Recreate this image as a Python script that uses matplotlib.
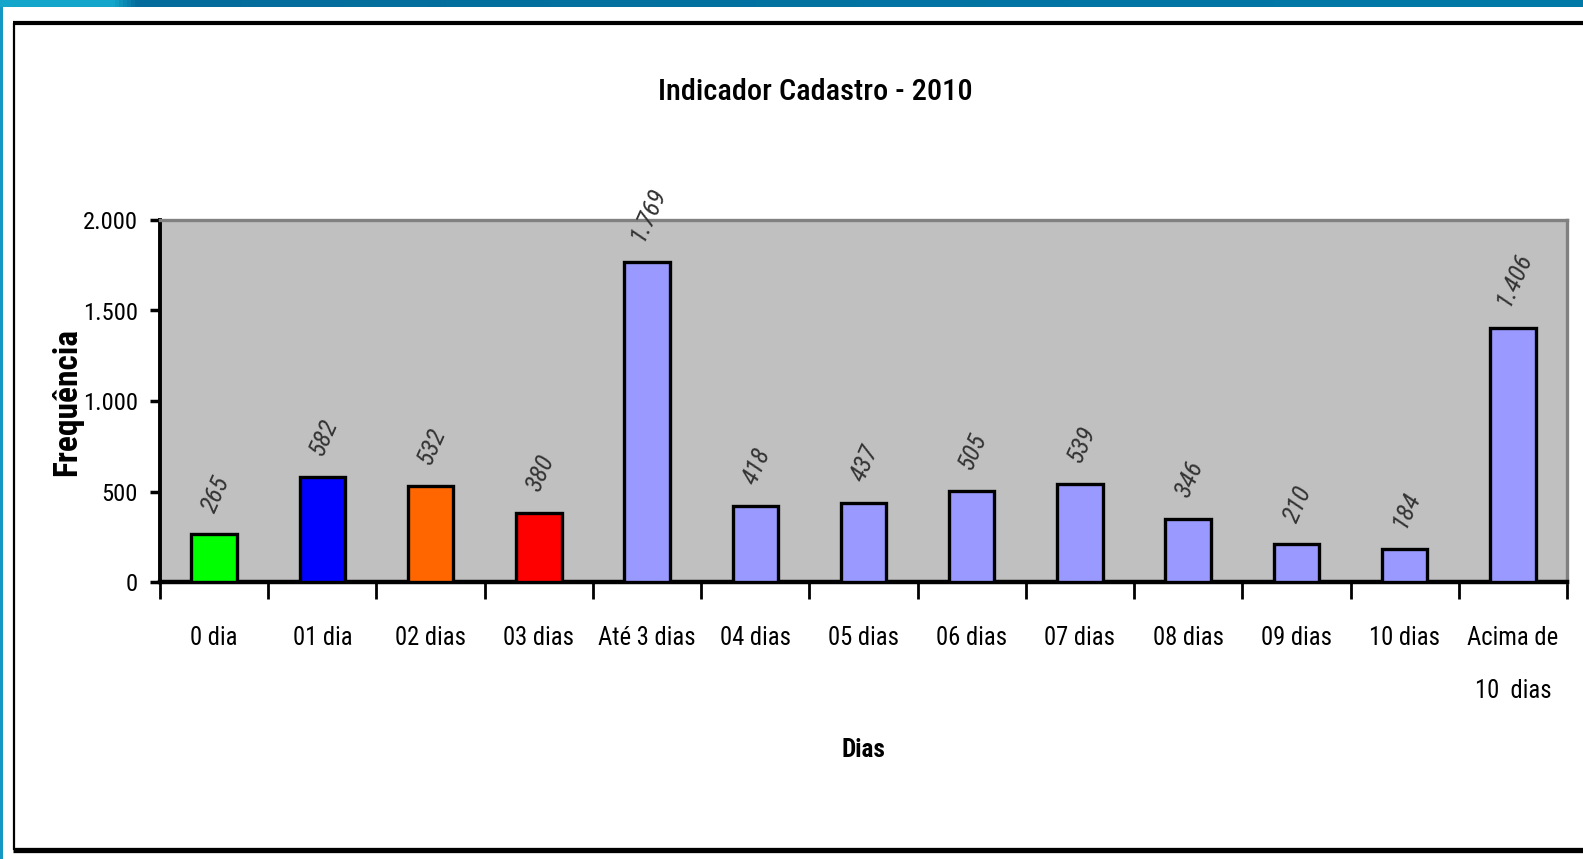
import matplotlib
matplotlib.use("Agg")
import matplotlib.pyplot as plt
from matplotlib.lines import Line2D
from matplotlib import font_manager as fm
import numpy as np

categories = ["0 dia", "01 dia", "02 dias", "03 dias", "Até 3 dias", "04 dias", "05 dias",
              "06 dias", "07 dias", "08 dias", "09 dias", "10 dias", "Acima de\n10  dias"]
values = [265, 582, 532, 380, 1769, 418, 437, 505, 539, 346, 210, 184, 1406]
value_labels = ["265", "582", "532", "380", "1.769", "418", "437", "505", "539", "346", "210", "184", "1.406"]
bar_colors = ["#00FF00", "#0000FF", "#FF6600", "#FF0000"] + ["#9999FF"] * 9
yticks = [0, 500, 1000, 1500, 2000]
ytick_labels = ["0", "500", "1.000", "1.500", "2.000"]
title = "Indicador Cadastro - 2010"
xlabel = "Dias"
ylabel = "Frequência"

# pick the narrowest available sans font
avail = {(f.name, f.stretch) for f in fm.fontManager.ttflist}
names = {n for n, _ in avail}
stretch = "normal"
if "Liberation Sans Narrow" in names:
    FAM = "Liberation Sans Narrow"
elif "Roboto Condensed" in names:
    FAM = "Roboto Condensed"
elif ("DejaVu Sans", "condensed") in avail or ("DejaVu Sans", 87.5) in avail:
    FAM = "DejaVu Sans"; stretch = "condensed"
else:
    FAM = "Liberation Sans"
FAMS = [FAM, "DejaVu Sans"]
plt.rcParams['font.family'] = FAMS
plt.rcParams['font.stretch'] = stretch

W, H = 1583, 859
fig = plt.figure(figsize=(W / 100, H / 100), dpi=100)
fig.patch.set_facecolor("white")
renderer = fig.canvas.get_renderer()


def fit_size(text, target_px, weight="normal", style="normal"):
    t = fig.text(0, 0, text, fontsize=10, fontweight=weight, style=style)
    w = t.get_window_extent(renderer).width
    t.remove()
    return 10 * target_px / w


def fx(px):
    return px / W


def fy(py):
    return 1 - py / H


# top decorative strip
top = fig.add_axes([0, fy(7), 1, 7 / H])
grad = np.zeros((1, 400, 3))
c1 = np.array([0x14, 0xA6, 0xCA]) / 255
c2 = np.array([0x05, 0x6C, 0x9C]) / 255
c3 = np.array([0x00, 0x7A, 0xA8]) / 255
for i in range(400):
    if i < 28:
        grad[0, i] = c1
    elif i < 34:
        tt = (i - 28) / 6
        grad[0, i] = c1 * (1 - tt) + c2 * tt
    else:
        tt = (i - 34) / 366
        grad[0, i] = c2 * (1 - tt) + c3 * tt
top.imshow(grad, aspect="auto", extent=[0, 1, 0, 1])
top.axis("off")
left = fig.add_axes([0, 0, 2.5 / W, fy(7)])
left.set_facecolor("#1497C2")
left.set_xticks([]); left.set_yticks([])
for s in left.spines.values():
    s.set_visible(False)

# outer frame (top, left, bottom)
fig.add_artist(Line2D([fx(13), 1.0], [fy(23), fy(23)], color="black", lw=3.0,
                      transform=fig.transFigure, solid_capstyle="butt"))
fig.add_artist(Line2D([fx(14), fx(14)], [fy(23), fy(850)], color="black", lw=1.6,
                      transform=fig.transFigure, solid_capstyle="butt"))
fig.add_artist(Line2D([fx(13), 1.0], [fy(849.5), fy(849.5)], color="black", lw=3.8,
                      transform=fig.transFigure, solid_capstyle="butt"))

title_fs = fit_size(title, 314, "medium")
xt_fs = fit_size("Até 3 dias", 96)
yt_fs = fit_size("2.000", 54)
xl_fs = fit_size(xlabel, 44, "bold")
yl_fs = min(fit_size(ylabel, 199, "bold"), 24)
dl_fs = min(fit_size("1.769", 66, style="italic"), 18.5)

ax = fig.add_axes([fx(160), fy(582), (1567 - 160) / W, (582 - 220) / H])
ax.set_facecolor("#C0C0C0")
x = np.arange(len(categories))
ax.bar(x, values, width=0.42, color=bar_colors, edgecolor="black", linewidth=2.4, zorder=3)
ax.set_xlim(-0.5, len(categories) - 0.5)
ax.set_ylim(0, 2000)

for xi, v, lab in zip(x, values, value_labels):
    ax.annotate(lab, (xi, v), xytext=(1, 13), textcoords="offset points",
                ha="center", va="bottom", rotation=66, fontsize=dl_fs, style="italic",
                color="#333333", zorder=4, annotation_clip=False)

ax.set_yticks(yticks)
ax.set_yticklabels(ytick_labels, fontsize=yt_fs)
ax.tick_params(axis="y", direction="out", length=7, width=2.5, pad=9, colors="black")

ax.set_xticks(x)
ax.set_xticklabels(categories, fontsize=xt_fs, linespacing=2.5, va="top")
ax.tick_params(axis="x", length=0, pad=32)
ax.set_xticks(np.arange(len(categories) + 1) - 0.5, minor=True)
ax.tick_params(axis="x", which="minor", direction="out", length=12, width=2.0)

ax.spines["left"].set_linewidth(2.8)
ax.spines["bottom"].set_linewidth(3.2)
ax.spines["top"].set_color("#808080")
ax.spines["top"].set_linewidth(2.4)
ax.spines["right"].set_color("#808080")
ax.spines["right"].set_linewidth(2.4)

fig.text(fx(815), fy(92), title, ha="center", va="center", fontsize=title_fs, fontweight="medium")
fig.text(fx(863), fy(750), xlabel, ha="center", va="center", fontsize=xl_fs, fontweight="bold")
fig.text(fx(67), fy(402), ylabel, ha="center", va="center", rotation=90, fontsize=yl_fs,
         fontweight="bold")

fig.savefig("out.png", dpi=100)
